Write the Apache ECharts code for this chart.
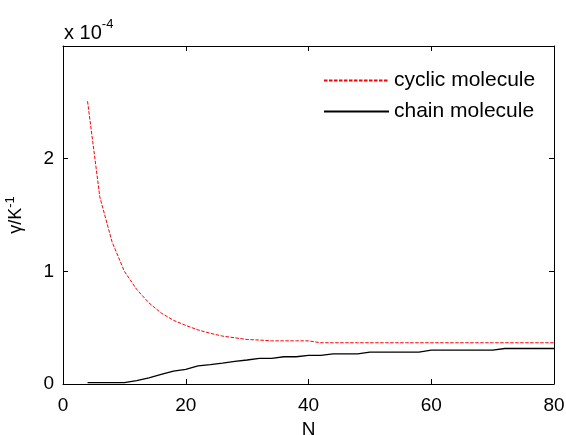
<!DOCTYPE html>
<html>
<head>
<meta charset="utf-8">
<script src="https://cdn.jsdelivr.net/npm/echarts@6/dist/echarts.min.js"></script>
<style>
  html, body { margin: 0; padding: 0; background: #fff; }
  #chart { width: 566px; height: 435px; }
</style>
</head>
<body>
<div id="chart"></div>
<script>
// N values (even numbers 4..80)
var nList = [4, 6, 8, 10, 12, 14, 16, 18, 20, 22, 24, 26, 28, 30, 32, 34, 36, 38, 40, 42,
  44, 46, 48, 50, 52, 54, 56, 58, 60, 62, 64, 66, 68, 70, 72, 74, 76, 78, 80];
// gamma in units of 1e-4 K^-1
var cyclicVals = [2.51, 1.66, 1.26, 1.0, 0.84, 0.72, 0.63, 0.565, 0.52, 0.48, 0.45, 0.425, 0.41, 0.395, 0.39, 0.383, 0.383, 0.383, 0.383, 0.366,
  0.366, 0.366, 0.366, 0.366, 0.366, 0.366, 0.366, 0.366, 0.366, 0.366, 0.366, 0.366, 0.366, 0.366, 0.366, 0.366, 0.366, 0.366, 0.366];
var chainVals = [0.012, 0.012, 0.012, 0.012, 0.03, 0.055, 0.085, 0.115, 0.13, 0.16, 0.172, 0.185, 0.2, 0.213, 0.227, 0.227, 0.242, 0.242, 0.254, 0.254,
  0.268, 0.268, 0.268, 0.283, 0.283, 0.283, 0.283, 0.283, 0.3, 0.3, 0.3, 0.3, 0.3, 0.3, 0.315, 0.315, 0.315, 0.315, 0.315];
var xTicks = [0, 20, 40, 60, 80];
var yTicks = [0, 1, 2];

function pairs(xs, ys) {
  return xs.map(function (x, i) { return [x, ys[i]]; });
}

var font = 'Liberation Sans, Arial, sans-serif';
var chart = echarts.init(document.getElementById('chart'));

// top / right axes only draw the closed box with inward ticks
var boxAxis = {
  axisLine: { show: true, onZero: false, lineStyle: { color: '#000', width: 1 } },
  axisTick: { show: true, inside: true, length: 5, lineStyle: { color: '#000' } },
  axisLabel: { show: false },
  splitLine: { show: false }
};

var option = {
  backgroundColor: '#fff',
  animation: false,
  title: {
    text: '{a|x 10}{b|-4}',
    left: 59,
    top: 13,
    textStyle: {
      fontWeight: 'normal',
      rich: {
        a: { fontFamily: font, fontSize: 20, color: '#000', fontWeight: 'normal' },
        b: { fontFamily: font, fontSize: 13, color: '#000', fontWeight: 'normal', verticalAlign: 'bottom', padding: [0, 0, 17, 0] }
      }
    }
  },
  grid: { left: 63, right: 12, top: 46, bottom: 51, outerBoundsMode: 'none' },
  legend: {
    orient: 'vertical',
    left: 318,
    top: 65,
    itemWidth: 65,
    itemHeight: 12,
    itemGap: 10,
    itemStyle: { opacity: 0 },
    textStyle: { fontFamily: font, fontSize: 21, color: '#000' },
    data: ['cyclic molecule', 'chain molecule']
  },
  xAxis: [
    {
      type: 'value', min: 0, max: 80, interval: 20,
      name: 'N', nameLocation: 'middle', nameGap: 36,
      nameTextStyle: { fontFamily: font, fontSize: 19, color: '#000' },
      axisLine: { show: true, onZero: false, lineStyle: { color: '#000', width: 1 } },
      axisTick: { show: true, inside: true, length: 5, lineStyle: { color: '#000' } },
      axisLabel: { fontFamily: font, fontSize: 19, color: '#000', margin: 12,
        formatter: function (v) { return xTicks.indexOf(v) >= 0 ? String(v) : ''; } },
      splitLine: { show: false }
    },
    Object.assign({ type: 'value', min: 0, max: 80, interval: 20, position: 'top' }, boxAxis)
  ],
  yAxis: [
    {
      type: 'value', min: 0, max: 3, interval: 1,
      name: '{a|γ/K}{b|-1}', nameLocation: 'middle', nameGap: 34, nameRotate: 90,
      nameTextStyle: {
        rich: {
          a: { fontFamily: font, fontSize: 18, color: '#000' },
          b: { fontFamily: font, fontSize: 13, color: '#000', verticalAlign: 'bottom', padding: [0, 0, 12, 0] }
        }
      },
      axisLine: { show: true, onZero: false, lineStyle: { color: '#000', width: 1 } },
      axisTick: { show: true, inside: true, length: 5, lineStyle: { color: '#000' } },
      axisLabel: { fontFamily: font, fontSize: 19, color: '#000', margin: 9,
        formatter: function (v) { return yTicks.indexOf(v) >= 0 ? String(v) : ''; } },
      splitLine: { show: false }
    },
    Object.assign({ type: 'value', min: 0, max: 3, interval: 1, position: 'right' }, boxAxis)
  ],
  series: [
    {
      name: 'cyclic molecule',
      type: 'line',
      data: pairs(nList, cyclicVals),
      showSymbol: false,
      symbol: 'none',
      color: '#ff0000',
      lineStyle: { color: '#ff0000', width: 1, type: [3.5, 1.5] }
    },
    {
      name: 'chain molecule',
      type: 'line',
      data: pairs(nList, chainVals),
      showSymbol: false,
      symbol: 'none',
      color: '#000',
      lineStyle: { color: '#000', width: 1.3 }
    }
  ]
};

chart.setOption(option);
</script>
</body>
</html>
